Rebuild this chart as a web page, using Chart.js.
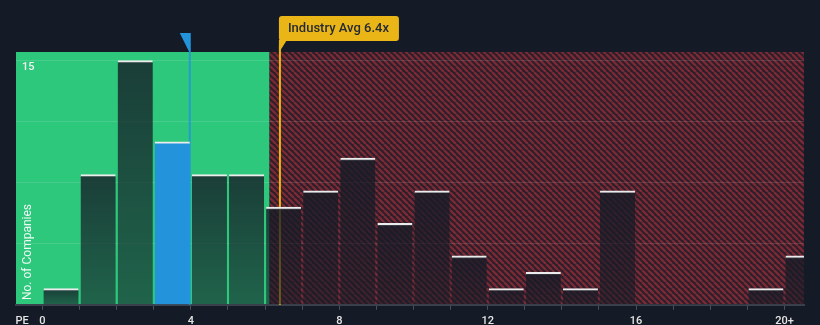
<!DOCTYPE html>
<html>
<head>
<meta charset="utf-8">
<script src="https://cdn.jsdelivr.net/npm/chart.js@4"></script>
<style>
  html, body { margin: 0; padding: 0; background: #151b26; }
  #wrap { width: 820px; height: 325px; }
</style>
</head>
<body>
<div id="wrap"><canvas id="peChart" width="820" height="325"></canvas></div>
<script>
// PE distribution: number of companies per 1x bucket, last bucket is 20+
const bucketStarts = [0, 1, 2, 3, 4, 5, 6, 7, 8, 9, 10, 11, 12, 13, 14, 15, 16, 17, 18, 19, 20];
const companyCounts = [1, 8, 15, 10, 8, 8, 6, 7, 9, 5, 7, 3, 1, 2, 1, 7, 0, 0, 0, 1, 3];
const xTickLabels = { 0: '0', 4: '4', 8: '8', 12: '12', 16: '16', 20: '20+' };
const yTickLabels = { 15: '15' };
const yGridValues = [0, 3.75, 7.5, 11.25, 15];

const companyPE = 3.97;
const industryAvg = 6.4;
const fairZoneEnd = 6.12;
const companyBucket = 3;

const green = 'rgb(46,200,125)';
const blue = '#2394dc';
const gold = '#eab516';

// diagonal red hatch used for the "expensive" side
function makeHatch(ctx) {
    const c = document.createElement('canvas');
    c.width = 6; c.height = 6;
    const p = c.getContext('2d');
    p.fillStyle = '#2a1e2a';
    p.fillRect(0, 0, 6, 6);
    p.strokeStyle = '#7a2a35';
    p.lineWidth = 2.4;
    p.beginPath();
    for (let k = -6; k <= 12; k += 6) {
        p.moveTo(k, 0);
        p.lineTo(k + 6, 6);
    }
    p.stroke();
    return ctx.createPattern(c, 'repeat');
}

const zonesPlugin = {
    id: 'zones',
    beforeDraw(chart) {
        const { ctx, chartArea: a, scales: { x } } = chart;
        const split = x.getPixelForValue(fairZoneEnd);
        ctx.save();
        ctx.fillStyle = green;
        ctx.fillRect(a.left, a.top, split - a.left, a.bottom - a.top);
        ctx.fillStyle = makeHatch(ctx);
        ctx.fillRect(split, a.top, a.right - split, a.bottom - a.top);
        ctx.restore();
    },
    beforeDatasetsDraw(chart) {
        const { ctx, chartArea: a, scales: { x } } = chart;
        ctx.save();
        // industry average line
        const ix = x.getPixelForValue(industryAvg);
        ctx.fillStyle = gold;
        ctx.fillRect(ix - 1, 45, 2, a.bottom - 45);
        // company marker line
        const cx = x.getPixelForValue(companyPE);
        ctx.fillStyle = 'rgba(35,148,220,0.85)';
        ctx.fillRect(cx - 1, a.top, 2, a.bottom - a.top);
        ctx.restore();
    },
    afterDraw(chart) {
        const { ctx, chartArea: a, scales: { x } } = chart;
        ctx.save();
        // company marker flag
        const cx = x.getPixelForValue(companyPE);
        ctx.fillStyle = blue;
        ctx.beginPath();
        ctx.moveTo(cx - 10, 33);
        ctx.lineTo(cx + 1, 33);
        ctx.lineTo(cx + 1, a.top);
        ctx.lineTo(cx - 0.5, a.top);
        ctx.closePath();
        ctx.fill();

        // industry average callout
        const ix = x.getPixelForValue(industryAvg);
        const bx = ix - 1, by = 16, bw = 120, bh = 25;
        ctx.fillStyle = gold;
        ctx.beginPath();
        ctx.roundRect(bx, by, bw, bh, 3);
        ctx.fill();
        ctx.beginPath();
        ctx.moveTo(bx, by + bh - 1);
        ctx.lineTo(bx + 8, by + bh - 1);
        ctx.lineTo(bx + 1, by + bh + 10);
        ctx.lineTo(bx, by + bh + 10);
        ctx.closePath();
        ctx.fill();
        ctx.fillStyle = '#262a33';
        ctx.font = '500 13px Roboto';
        ctx.textBaseline = 'middle';
        ctx.fillText('Industry Avg 6.4x', bx + 9, by + bh / 2 + 0.5);

        // axis title inside the plot
        ctx.translate(28, 252);
        ctx.rotate(-Math.PI / 2);
        ctx.fillStyle = 'rgba(255,255,255,0.92)';
        ctx.font = '12px Roboto';
        ctx.textAlign = 'center';
        ctx.textBaseline = 'middle';
        ctx.fillText('No. of Companies', 0, 0);
        ctx.restore();
    }
};

// darker at the top of each bar, lighter toward the base
function barFill(context) {
    const chart = context.chart;
    if (context.dataIndex === companyBucket) return blue;
    const { ctx, scales: { y } } = chart;
    if (!chart.chartArea) return 'rgba(21,27,38,0.7)';
    const v = context.raw ? context.raw.y : 0;
    const top = y.getPixelForValue(v);
    const bottom = y.getPixelForValue(0);
    if (bottom - top < 1) return 'rgba(21,27,38,0.7)';
    const g = ctx.createLinearGradient(0, top, 0, bottom);
    g.addColorStop(0, 'rgba(21,27,38,0.8)');
    g.addColorStop(1, 'rgba(21,27,38,0.58)');
    return g;
}

new Chart(document.getElementById('peChart'), {
    type: 'bar',
    data: {
        datasets: [{
            data: bucketStarts.map((b, i) => ({ x: b + 0.5, y: companyCounts[i] })),
            backgroundColor: barFill,
            borderColor: '#ececec',
            borderWidth: { top: 2, left: 0, right: 0, bottom: 0 },
            borderSkipped: false,
            barThickness: 35
        }]
    },
    options: {
        responsive: false,
        animation: false,
        events: [],
        layout: { padding: { left: 4, right: 16, top: 52, bottom: -8 } },
        plugins: { legend: { display: false }, tooltip: { enabled: false } },
        scales: {
            x: {
                type: 'linear',
                min: -0.714,
                max: 20.526,
                offset: false,
                afterBuildTicks(axis) {
                    axis.ticks = [{ value: -0.55 }].concat(bucketStarts.map(v => ({ value: v })));
                },
                grid: {
                    offset: false,
                    drawOnChartArea: false,
                    drawTicks: true,
                    tickLength: 5,
                    tickColor: c => (c.tick && c.tick.value < 0 ? 'rgba(0,0,0,0)' : '#4b515c')
                },
                border: { display: true, color: '#3c424d', width: 2 },
                ticks: {
                    autoSkip: false,
                    maxRotation: 0,
                    padding: 5,
                    color: '#e6e6e6',
                    font: { family: 'Roboto', size: 11, weight: '500' },
                    callback: v => (v < 0 ? 'PE' : (xTickLabels[v] || ''))
                }
            },
            y: {
                min: 0,
                max: 15.52,
                afterBuildTicks(axis) {
                    axis.ticks = yGridValues.map(v => ({ value: v }));
                },
                border: { display: false },
                grid: {
                    drawTicks: false,
                    color: c => (c.tick && c.tick.value === 0 ? 'rgba(0,0,0,0)' : 'rgba(255,255,255,0.12)'),
                    lineWidth: 1
                },
                ticks: {
                    mirror: true,
                    padding: 6,
                    labelOffset: 7,
                    color: '#f2f2f2',
                    font: { family: 'Roboto', size: 11, weight: '500' },
                    callback: v => yTickLabels[v] || ''
                }
            }
        }
    },
    plugins: [zonesPlugin]
});
</script>
</body>
</html>
